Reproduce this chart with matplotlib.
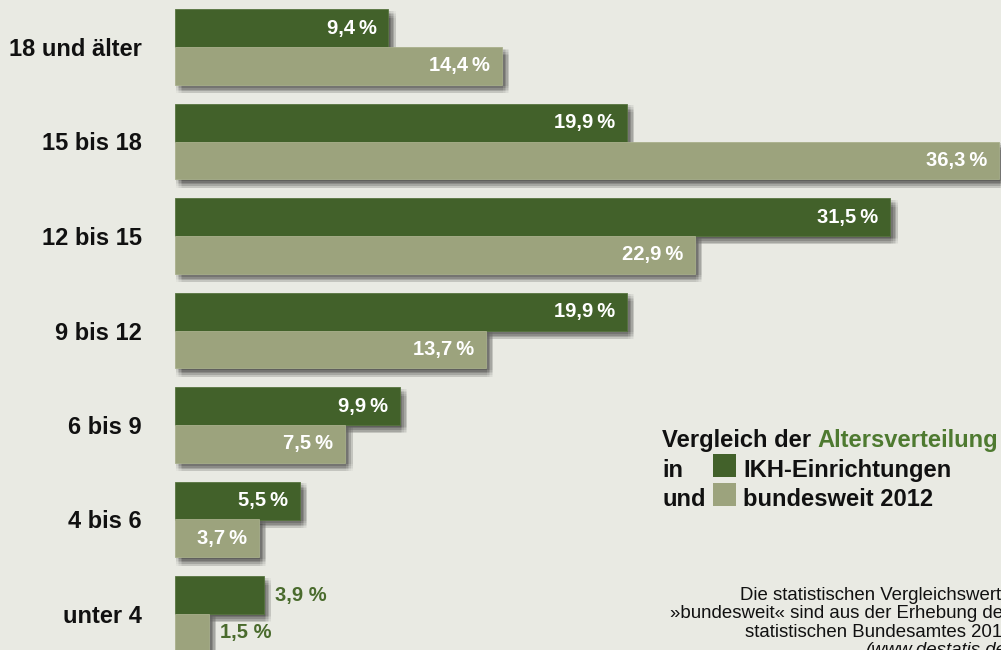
import matplotlib
matplotlib.use("Agg")
import matplotlib.pyplot as plt
import matplotlib.patheffects as pe
from matplotlib.patches import Rectangle

# ---- data ----
categories = ["18 und älter", "15 bis 18", "12 bis 15", "9 bis 12", "6 bis 9", "4 bis 6", "unter 4"]
ikh = [9.4, 19.9, 31.5, 19.9, 9.9, 5.5, 3.9]          # IKH-Einrichtungen
bund = [14.4, 36.3, 22.9, 13.7, 7.5, 3.7, 1.5]        # bundesweit 2012
ikh_labels = ["9,4\u2009%", "19,9\u2009%", "31,5\u2009%", "19,9\u2009%", "9,9\u2009%", "5,5\u2009%", "3,9 %"]
bund_labels = ["14,4\u2009%", "36,3\u2009%", "22,9\u2009%", "13,7\u2009%", "7,5\u2009%", "3,7\u2009%", "1,5 %"]
outside_ikh = [False, False, False, False, False, False, True]
outside_bund = [False, False, False, False, False, False, True]

# ---- style ----
BG = "#e9eae3"
DARK = "#42612a"
LIGHT = "#9ca37d"
GREEN_TXT = "#4a6b2d"
TITLE_GREEN = "#4e7a30"
FONT = ["Liberation Sans", "DejaVu Sans"]

W, H = 1001, 650
fig = plt.figure(figsize=(W / 100, H / 100), dpi=100, facecolor=BG)

PX_PER_PCT = 22.71
X0 = 175
ax = fig.add_axes([X0 / W, 0, (W - X0) / W, 1])
ax.set_facecolor(BG)
ax.set_xlim(0, (W - X0) / PX_PER_PCT)

SPACING = 94.5
TOP_CENTER = 47
n = len(categories)
ypos = [n - 1 - i for i in range(n)]
ytop = (n - 1) + TOP_CENTER / SPACING
ybot = (n - 1) - (H - TOP_CENTER) / SPACING
ax.set_ylim(ybot, ytop)
bh = 37.7 / SPACING

# soft (blurred-looking) drop shadow from many faint offset copies
shadow = []
for ox in (1.0, 2.5, 4.0, 5.5, 7.0):
    for oy in (1.5, 3.0, 4.5, 6.0, 7.5):
        shadow.append(pe.SimplePatchShadow(offset=(ox * 0.75, -oy * 0.8),
                                           shadow_rgbFace="black", alpha=0.03))
shadow.append(pe.Normal())

pad = 12 / PX_PER_PCT
for i in range(n):
    y = ypos[i]
    b1 = ax.barh(y + bh / 2, ikh[i], height=bh, color=DARK, edgecolor="#587540", linewidth=0.6)
    for p in b1:
        p.set_path_effects(shadow)
    b2 = ax.barh(y - bh / 2, bund[i], height=bh, color=LIGHT, edgecolor="#a9b08c", linewidth=0.6)
    for p in b2:
        p.set_path_effects(shadow)

    for val, lab, out, yy in ((ikh[i], ikh_labels[i], outside_ikh[i], y + bh / 2),
                              (bund[i], bund_labels[i], outside_bund[i], y - bh / 2)):
        if out:
            ax.text(val + 11 / PX_PER_PCT, yy, lab, ha="left", va="center", color=GREEN_TXT,
                    fontsize=14.5, fontweight="bold", family=FONT, zorder=5)
        else:
            ax.text(val - pad, yy, lab, ha="right", va="center", color="white",
                    fontsize=14.5, fontweight="bold", family=FONT, zorder=5)

ax.set_yticks(ypos)
ax.set_yticklabels(categories, fontsize=17, fontweight="bold", family=FONT, color="#111111")
ax.tick_params(axis="y", length=0, pad=33 * 0.72)
ax.set_xticks([])
for s in ax.spines.values():
    s.set_visible(False)

# ---- legend ----
def fx(px):
    return px / W

def fy(py):
    return 1 - py / H

LEG_FS = 17.1
t1 = fig.text(fx(662), fy(447), "Vergleich der ", ha="left", va="baseline", fontsize=LEG_FS,
              fontweight="bold", family=FONT, color="#111111")
renderer = fig.canvas.get_renderer()
bb = t1.get_window_extent(renderer)
fig.text(bb.x1 / W, fy(447), "Altersverteilung", ha="left", va="baseline", fontsize=LEG_FS,
         fontweight="bold", family=FONT, color=TITLE_GREEN)
fig.text(fx(662), fy(477), "in", ha="left", va="baseline", fontsize=LEG_FS,
         fontweight="bold", family=FONT, color="#111111")
fig.text(fx(662), fy(506), "und", ha="left", va="baseline", fontsize=LEG_FS,
         fontweight="bold", family=FONT, color="#111111")
fig.add_artist(Rectangle((fx(713), fy(477)), 23 / W, 23 / H, transform=fig.transFigure,
                         facecolor=DARK, edgecolor="none"))
fig.add_artist(Rectangle((fx(713), fy(506)), 23 / W, 23 / H, transform=fig.transFigure,
                         facecolor=LIGHT, edgecolor="none"))
fig.text(fx(743), fy(477), "IKH-Einrichtungen", ha="left", va="baseline", fontsize=LEG_FS,
         fontweight="bold", family=FONT, color="#111111")
fig.text(fx(743), fy(506), "bundesweit 2012", ha="left", va="baseline", fontsize=LEG_FS,
         fontweight="bold", family=FONT, color="#111111")

# ---- footnote (cut off at the right edge, as in the original) ----
foot = ["Die statistischen Vergleichswerte",
        "»bundesweit« sind aus der Erhebung des",
        "statistischen Bundesamtes 2012"]
for k, line in enumerate(foot):
    fig.text(fx(1012), fy(600 + 18.3 * k), line, ha="right", va="baseline", fontsize=13.4,
             family=FONT, color="#111111")
fig.text(fx(1012), fy(600 + 18.3 * 3), "(www.destatis.de)", ha="right", va="baseline",
         fontsize=13.4, family=FONT, style="italic", color="#111111")

fig.savefig("out.png", dpi=100, facecolor=BG)
